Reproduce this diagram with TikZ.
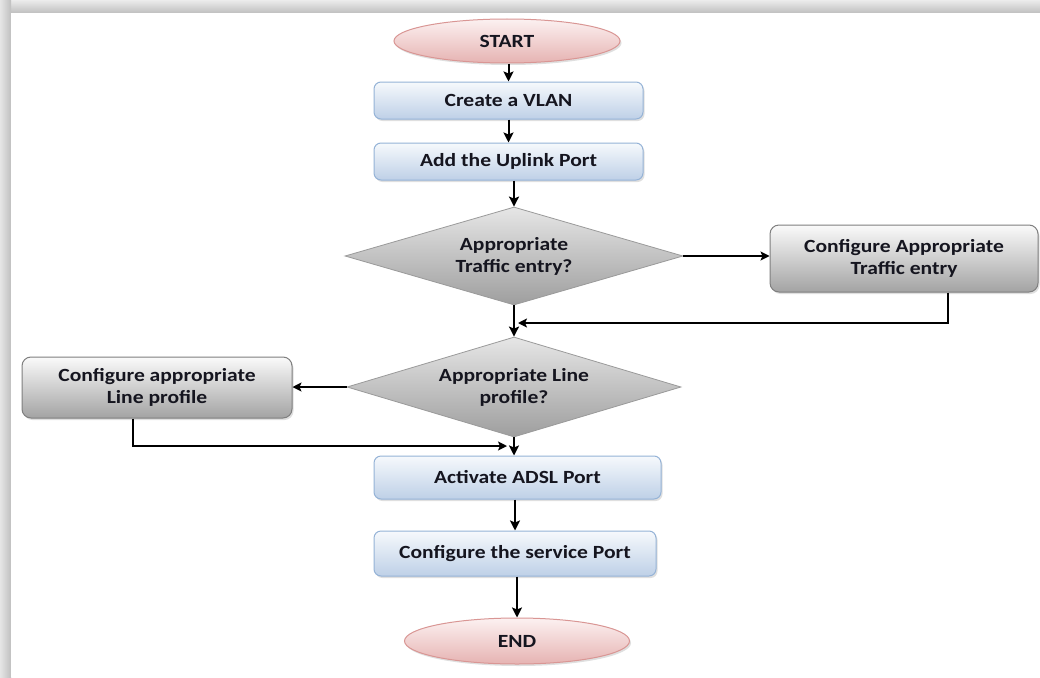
\documentclass[tikz,border=0pt]{standalone}
\usepackage{fontspec}
\setmainfont{Carlito}[FakeStretch=1.16]
\usetikzlibrary{shapes.geometric,arrows.meta,shadows,calc}

\definecolor{txt}{HTML}{15151F}
\definecolor{blueedge}{HTML}{95B3D7}
\definecolor{bluetop}{HTML}{F6F9FC}
\definecolor{bluebot}{HTML}{BED0E7}
\definecolor{greyedge}{HTML}{7F7F7F}
\definecolor{greytop}{HTML}{FAFAFA}
\definecolor{greybot}{HTML}{A3A3A3}
\definecolor{dmdedge}{HTML}{9A9A9A}
\definecolor{dmdtop}{HTML}{E6E6E6}
\definecolor{dmdbot}{HTML}{9E9E9E}
\definecolor{pinkedge}{HTML}{D99694}
\definecolor{pinktop}{HTML}{FCF1F1}
\definecolor{pinkbot}{HTML}{E6B3B2}

\begin{document}
\begin{tikzpicture}[x=1pt,y=-1pt,
  every node/.style={font=\fontsize{18.6}{22}\selectfont\bfseries, text=txt, align=center, inner sep=0pt},
  softshadow/.style={drop shadow={opacity=0.25, shadow xshift=1.5pt, shadow yshift=-2pt}},
  terminal/.style={ellipse, draw=pinkedge, line width=1pt, top color=pinktop, bottom color=pinkbot, softshadow},
  stepbox/.style={rectangle, rounded corners=7pt, draw=blueedge, line width=1pt, top color=bluetop, bottom color=bluebot, softshadow},
  fixbox/.style={rectangle, rounded corners=9pt, draw=greyedge, line width=1pt, top color=greytop, bottom color=greybot, softshadow},
  query/.style={diamond, aspect=3.4, draw=dmdedge, line width=0.8pt, top color=dmdtop, bottom color=dmdbot},
  arr/.style={-{Stealth[length=10pt,width=10pt,inset=2pt]}, line width=2pt, draw=black},
  harr/.style={-{Stealth[length=9pt,width=9pt,inset=2pt]}, line width=1.4pt, draw=black}]
\useasboundingbox (0,0) rectangle (1040,677);

% page frame with its shaded top and left edges
\shade[top color=gray!15, bottom color=gray!50] (0,0) rectangle (1040,13);
\shade[left color=gray!20, right color=gray!50] (0,0) rectangle (11,677);
\fill[white] (11,13) rectangle (1040,677);

% main column
\node[terminal, minimum width=226pt, minimum height=44pt] (start) at (507,41) {START};
\node[stepbox, minimum width=269pt, minimum height=37pt] (vlan) at (508.5,100.5) {Create a VLAN};
\node[stepbox, minimum width=269pt, minimum height=37pt] (uplink) at (508.5,161.5) {Add the Uplink Port};
\node[query, minimum width=338pt, minimum height=98pt] (traffic) at (514,256) {Appropriate\\Traffic entry?};
\node[query, minimum width=334pt, minimum height=100pt] (line) at (514,387) {Appropriate Line\\profile?};
\node[stepbox, minimum width=287pt, minimum height=43pt] (adsl) at (517.5,477.5) {Activate ADSL Port};
\node[stepbox, minimum width=282pt, minimum height=45pt] (svc) at (515,553.5) {Configure the service Port};
\node[terminal, minimum width=225pt, minimum height=46pt] (end) at (517,641) {END};

% side branches
\node[fixbox, minimum width=268pt, minimum height=67pt] (cfgtraffic) at (904,258.5) {Configure Appropriate\\Traffic entry};
\node[fixbox, minimum width=270pt, minimum height=61pt] (cfgline) at (157,387.5) {Configure appropriate\\Line profile};

% junctions where the branches rejoin the column
\coordinate (join1) at (518,323);
\coordinate (join2) at (507,446);

% connectors
\draw[arr] (start.south -| vlan.north) -- (vlan.north);
\draw[arr] (vlan) -- (uplink);
\draw[arr] (uplink.south -| traffic.north) -- (traffic.north);
\draw[harr] (traffic.east) -- (traffic.east -| cfgtraffic.west);
\draw[harr] ([xshift=44pt]cfgtraffic.south) |- (join1);
\draw[arr] (traffic.south) -- (line.north);
\draw[harr] (line.west) -- (line.west -| cfgline.east);
\draw[harr] ([xshift=-24pt]cfgline.south) |- (join2);
\draw[arr] (line.south) -- (line.south |- adsl.north);
\draw[arr] (adsl.south -| svc.north) -- (svc.north);
\draw[arr] (svc.south -| end.north) -- (end.north);
\end{tikzpicture}
\end{document}
